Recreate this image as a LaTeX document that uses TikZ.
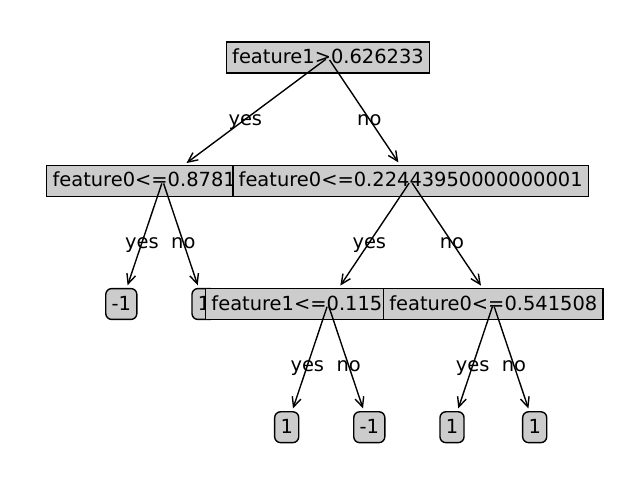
\documentclass[tikz,border=0pt]{standalone}
\usepackage{fontspec}
\setmainfont{DejaVu Sans}
\usetikzlibrary{arrows.meta}
\begin{document}
\begin{tikzpicture}[x=0.72pt,y=-0.72pt,
  every node/.style={font=\fontsize{14}{16}\selectfont},
  decision/.style={draw=black,fill=black!20,line width=1pt,inner xsep=4.2pt,inner ysep=4.2pt,text height=11.3pt,text depth=2.5pt},
  leafbox/.style={decision,rounded corners=4.2pt},
  link/.style={line width=1pt,-{Straight Barb[length=7pt,width=6.5pt,line width=1pt]},shorten >=2pt,shorten <=2pt},
  lbl/.style={inner sep=0pt,text height=11.3pt,text depth=2.5pt}]
\useasboundingbox (0,0) rectangle (640,480);
% root
\node[decision] (root) at (328,57.6) {feature1>0.626233};
% left subtree
\node[decision,text width=158.6pt,align=left] (a) at (162.7,180.8) {feature0<=0.8781};
\draw[link] (root.center) -- (a);
\node[lbl] (ya) at (245.3,119.2) {yes};
\node[leafbox] (a1) at (121.3,304) {-1};
\draw[link] (a.center) -- (a1);
\node[lbl] (ya1) at (142,242.4) {yes};
\node[leafbox] (a2) at (204,304) {1};
\draw[link] (a.center) -- (a2);
\node[lbl] (na2) at (183.3,242.4) {no};
% right subtree
\node[decision] (b) at (410.7,180.8) {feature0<=0.22443950000000001};
\draw[link] (root.center) -- (b);
\node[lbl] (nb) at (369.3,119.2) {no};
\node[decision,text width=167.8pt,align=left] (c) at (328,304) {feature1<=0.115};
\draw[link] (b.center) -- (c);
\node[lbl] (yc) at (369.3,242.4) {yes};
\node[leafbox] (c1) at (286.7,427.2) {1};
\draw[link] (c.center) -- (c1);
\node[lbl] (yc1) at (307.3,365.6) {yes};
\node[leafbox] (c2) at (369.3,427.2) {-1};
\draw[link] (c.center) -- (c2);
\node[lbl] (nc2) at (348.7,365.6) {no};
\node[decision] (d) at (493.3,304) {feature0<=0.541508};
\draw[link] (b.center) -- (d);
\node[lbl] (nd) at (452,242.4) {no};
\node[leafbox] (d1) at (452,427.2) {1};
\draw[link] (d.center) -- (d1);
\node[lbl] (yd1) at (472.7,365.6) {yes};
\node[leafbox] (d2) at (534.7,427.2) {1};
\draw[link] (d.center) -- (d2);
\node[lbl] (nd2) at (514,365.6) {no};
\end{tikzpicture}
\end{document}
